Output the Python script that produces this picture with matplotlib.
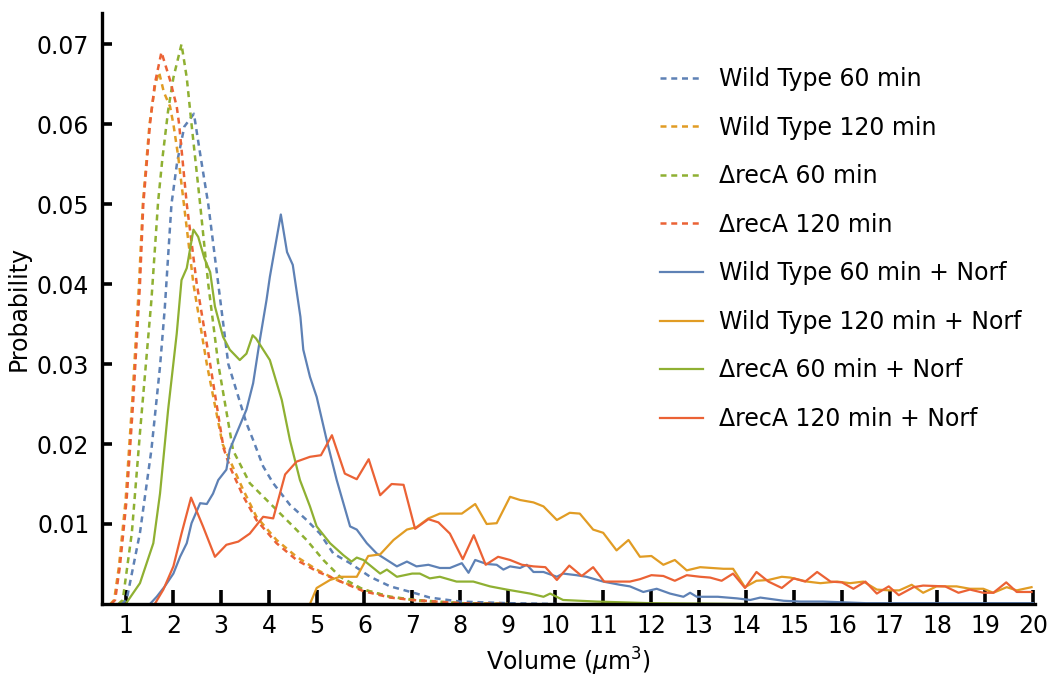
import numpy as np
import matplotlib
matplotlib.use("Agg")
import matplotlib.pyplot as plt

# ---------------------------------------------------------------------------
# Data
# ---------------------------------------------------------------------------
# untreated (dashed)
wt60_x = [0.90, 1.02, 1.30, 1.54, 1.72, 1.82, 1.96, 2.08, 2.23, 2.43, 2.56, 2.73, 2.94, 3.15,
          3.53, 3.67, 3.88, 4.09, 4.44, 4.79, 5.07, 5.35, 5.70, 6.12, 6.54, 7.09, 7.37, 8.0, 9.0, 10.0]
wt60_y = [0, 0.0005, 0.0089, 0.0193, 0.0297, 0.0370, 0.0500, 0.0553, 0.0597, 0.0613, 0.0563, 0.0500,
          0.0400, 0.0300, 0.0226, 0.0205, 0.0172, 0.0151, 0.0124, 0.0105, 0.0088, 0.0063, 0.0051,
          0.0034, 0.0022, 0.0013, 0.0008, 0.0003, 0.0001, 0]

wt120_x = [0.68, 0.76, 0.86, 1.00, 1.14, 1.28, 1.36, 1.50, 1.62, 1.70, 1.80, 1.93, 2.00, 2.10,
           2.22, 2.42, 2.70, 3.03, 3.18, 3.46, 3.74, 4.16, 4.58, 5.00, 5.42, 5.98, 6.54, 7.10, 8.0, 9.0]
wt120_y = [0, 0.0005, 0.0047, 0.0130, 0.0255, 0.0400, 0.0500, 0.0600, 0.0650, 0.0665, 0.0640, 0.0622,
           0.0600, 0.0560, 0.0500, 0.0400, 0.0300, 0.0200, 0.0180, 0.0143, 0.0109, 0.0080, 0.0059,
           0.0043, 0.0030, 0.0018, 0.0009, 0.0004, 0.0001, 0]

reca60_x = [0.85, 0.94, 1.13, 1.30, 1.54, 1.68, 1.77, 1.89, 2.00, 2.17, 2.28, 2.38, 2.56, 2.73,
            2.94, 3.25, 3.60, 4.02, 4.44, 4.79, 5.14, 5.49, 5.98, 6.54, 7.09, 8.0, 9.0]
reca60_y = [0, 0.0005, 0.0089, 0.0214, 0.0380, 0.0503, 0.0557, 0.0617, 0.0658, 0.0700, 0.0658,
            0.0600, 0.0500, 0.0400, 0.0300, 0.0192, 0.0151, 0.0126, 0.0101, 0.0080, 0.0055, 0.0034,
            0.0018, 0.0009, 0.0005, 0.0001, 0]

reca120_x = [0.70, 0.78, 0.88, 1.02, 1.16, 1.30, 1.37, 1.51, 1.61, 1.75, 1.93, 2.07, 2.12, 2.28,
             2.49, 2.77, 3.05, 3.18, 3.46, 3.74, 4.16, 4.58, 5.00, 5.42, 5.98, 6.54, 7.00, 8.0, 9.0]
reca120_y = [0, 0.0005, 0.0047, 0.0130, 0.0255, 0.0400, 0.0500, 0.0600, 0.0650, 0.0690, 0.0655,
             0.0622, 0.0600, 0.0500, 0.0400, 0.0300, 0.0195, 0.0172, 0.0135, 0.0105, 0.0076, 0.0055,
             0.0041, 0.0030, 0.0016, 0.0008, 0.0005, 0.0001, 0]

# norfloxacin treated (solid)
wt60n_x = [1.51, 1.65, 1.82, 2.00, 2.14, 2.28, 2.38, 2.56, 2.70, 2.83, 2.94, 3.11, 3.18, 3.32, 3.53,
           3.67, 3.81, 3.95, 4.02, 4.25, 4.38, 4.50, 4.66, 4.72, 4.86, 5.00, 5.21, 5.42, 5.70, 5.84,
           6.05, 6.26, 6.47, 6.68, 6.89, 7.09, 7.34, 7.58, 7.79, 8.04, 8.18, 8.32, 8.56, 8.77, 8.91,
           9.05, 9.26, 9.40, 9.54, 9.75, 10.03, 10.16, 10.44, 10.65, 11.00, 11.35, 11.56, 11.84,
           12.12, 12.40, 12.68, 12.82, 12.96, 13.40, 13.80, 14.08, 14.29, 14.78, 15.13, 15.60,
           16.5, 18.0, 20.0]
wt60n_y = [0, 0.0009, 0.0022, 0.0038, 0.0059, 0.0076, 0.0101, 0.0126, 0.0125, 0.0138, 0.0155,
           0.0168, 0.0193, 0.0213, 0.0243, 0.0276, 0.0330, 0.0380, 0.0409, 0.0487, 0.0440, 0.0424,
           0.0359, 0.0318, 0.0284, 0.0259, 0.0205, 0.0155, 0.0097, 0.0093, 0.0076, 0.0063, 0.0055,
           0.0047, 0.0053, 0.0047, 0.0049, 0.0045, 0.0045, 0.0051, 0.0039, 0.0055, 0.0050, 0.0049,
           0.0043, 0.0047, 0.0045, 0.0049, 0.0040, 0.0040, 0.0034, 0.0038, 0.0036, 0.0034, 0.0028,
           0.0024, 0.0022, 0.0015, 0.0019, 0.0013, 0.0009, 0.0014, 0.0009, 0.0009, 0.0007, 0.0005,
           0.0008, 0.0004, 0.0003, 0.0003, 0.0001, 0.0001, 0.0001]

wt120n_x = [4.86, 5.00, 5.28, 5.49, 5.84, 6.08, 6.33, 6.61, 6.89, 7.09, 7.34, 7.58, 8.04, 8.32,
            8.56, 8.77, 9.05, 9.26, 9.54, 9.75, 10.03, 10.30, 10.51, 10.79, 11.00, 11.28, 11.53,
            11.77, 12.01, 12.26, 12.50, 12.75, 13.03, 13.52, 13.72, 13.97, 14.21, 14.46, 14.74,
            14.92, 15.27, 15.55, 15.90, 16.17, 16.45, 16.73, 17.00, 17.20, 17.46, 17.70, 17.98,
            18.40, 18.68, 18.96, 19.17, 19.45, 19.66, 19.97]
wt120n_y = [0, 0.0020, 0.0030, 0.0034, 0.0034, 0.0060, 0.0062, 0.0080, 0.0093, 0.0096, 0.0107,
            0.0113, 0.0113, 0.0125, 0.0100, 0.0101, 0.0134, 0.0130, 0.0127, 0.0122, 0.0105, 0.0114,
            0.0113, 0.0093, 0.0089, 0.0067, 0.0080, 0.0059, 0.0060, 0.0049, 0.0055, 0.0042, 0.0046,
            0.0044, 0.0044, 0.0021, 0.0029, 0.0030, 0.0034, 0.0033, 0.0028, 0.0026, 0.0028, 0.0026,
            0.0028, 0.0018, 0.0017, 0.0017, 0.0024, 0.0014, 0.0022, 0.0022, 0.0019, 0.0019, 0.0014,
            0.0021, 0.0017, 0.0021]

reca60n_x = [1.00, 1.30, 1.58, 1.72, 1.89, 2.07, 2.17, 2.28, 2.42, 2.52, 2.65, 2.77, 2.87, 3.04,
             3.18, 3.39, 3.53, 3.66, 3.73, 4.02, 4.27, 4.44, 4.65, 4.86, 5.00, 5.28, 5.56, 5.73,
             5.84, 5.98, 6.33, 6.47, 6.68, 7.00, 7.16, 7.37, 7.58, 7.93, 8.28, 8.63, 8.98, 9.47,
             9.75, 9.89, 10.16, 10.86, 12.0, 14.0]
reca60n_y = [0, 0.0026, 0.0076, 0.0138, 0.0243, 0.0338, 0.0405, 0.0420, 0.0468, 0.0459, 0.0432,
             0.0415, 0.0372, 0.0334, 0.0318, 0.0305, 0.0313, 0.0336, 0.0332, 0.0305, 0.0255, 0.0205,
             0.0155, 0.0122, 0.0097, 0.0076, 0.0061, 0.0053, 0.0058, 0.0055, 0.0038, 0.0043, 0.0034,
             0.0038, 0.0038, 0.0032, 0.0034, 0.0028, 0.0028, 0.0022, 0.0018, 0.0013, 0.0009, 0.0013,
             0.0005, 0.0003, 0.0001, 0]

reca120n_x = [1.61, 1.79, 2.00, 2.17, 2.37, 2.62, 2.87, 3.11, 3.36, 3.60, 3.88, 4.09, 4.34, 4.58,
              4.86, 5.09, 5.32, 5.59, 5.84, 6.09, 6.33, 6.57, 6.82, 7.06, 7.34, 7.55, 7.79, 8.06,
              8.29, 8.54, 8.80, 9.05, 9.30, 9.54, 9.79, 10.03, 10.29, 10.55, 10.79, 11.02, 11.28,
              11.56, 11.77, 12.01, 12.26, 12.50, 12.75, 13.03, 13.24, 13.48, 13.72, 13.97, 14.21,
              14.46, 14.74, 14.99, 15.23, 15.48, 15.76, 16.00, 16.24, 16.49, 16.73, 16.98, 17.19,
              17.50, 17.70, 18.16, 18.44, 18.68, 18.96, 19.17, 19.44, 19.66, 19.97]
reca120n_y = [0, 0.0018, 0.0047, 0.0088, 0.0133, 0.0097, 0.0059, 0.0074, 0.0078, 0.0088, 0.0109,
              0.0107, 0.0162, 0.0178, 0.0184, 0.0186, 0.0211, 0.0163, 0.0156, 0.0181, 0.0136,
              0.0150, 0.0149, 0.0094, 0.0106, 0.0102, 0.0088, 0.0056, 0.0086, 0.0049, 0.0059,
              0.0055, 0.0049, 0.0047, 0.0046, 0.0030, 0.0048, 0.0035, 0.0046, 0.0028, 0.0028,
              0.0028, 0.0031, 0.0036, 0.0035, 0.0029, 0.0036, 0.0034, 0.0033, 0.0029, 0.0038,
              0.0020, 0.0040, 0.0028, 0.0020, 0.0032, 0.0028, 0.0040, 0.0028, 0.0027, 0.0019,
              0.0028, 0.0013, 0.0022, 0.0011, 0.0021, 0.0023, 0.0022, 0.0014, 0.0018, 0.0014,
              0.0014, 0.0027, 0.0015, 0.0015]

labels = ["Wild Type 60 min", "Wild Type 120 min", "\u0394recA 60 min", "\u0394recA 120 min",
          "Wild Type 60 min + Norf", "Wild Type 120 min + Norf",
          "\u0394recA 60 min + Norf", "\u0394recA 120 min + Norf"]

xticks = list(range(1, 21))
yticks = [0.01, 0.02, 0.03, 0.04, 0.05, 0.06, 0.07]

# ---------------------------------------------------------------------------
# Style
# ---------------------------------------------------------------------------
COLORS = ["#5E81B5", "#E19C24", "#8FB032", "#EB6235"]
DASH = (0, (2.4, 1.9))
FS = 17

plt.rcParams["font.family"] = ["DejaVu Sans"]
plt.rcParams["mathtext.fontset"] = "dejavusans"

fig = plt.figure(figsize=(10.49, 6.79), dpi=100)
ax = fig.add_axes([0.097, 0.1105, 0.890, 0.8704])

dashed = [(wt60_x, wt60_y), (wt120_x, wt120_y), (reca60_x, reca60_y), (reca120_x, reca120_y)]
solid = [(wt60n_x, wt60n_y), (wt120n_x, wt120n_y), (reca60n_x, reca60n_y), (reca120n_x, reca120n_y)]

for i, (xs, ys) in enumerate(dashed):
    ax.plot(xs, ys, color=COLORS[i], lw=1.8, ls=DASH, label=labels[i])
for i, (xs, ys) in enumerate(solid):
    ax.plot(xs, ys, color=COLORS[i], lw=1.6, ls="-", label=labels[4 + i])

ax.set_xlim(0.5, 20.05)
ax.set_ylim(0, 0.0739)
ax.set_xticks(xticks)
ax.set_xticklabels([str(t) for t in xticks])
ax.set_yticks(yticks)
ax.set_yticklabels([f"{t:.2f}" for t in yticks])

for side in ["top", "right"]:
    ax.spines[side].set_visible(False)
for side in ["left", "bottom"]:
    ax.spines[side].set_linewidth(2.4)
ax.tick_params(axis="x", direction="in", length=10, width=2.6, pad=7, labelsize=FS)
ax.tick_params(axis="y", direction="in", length=7.5, width=2.6, pad=9, labelsize=FS)

ax.set_xlabel(r"Volume ($\mu$m$^3$)", fontsize=FS, labelpad=6)
ax.set_ylabel("Probability", fontsize=FS, labelpad=4)

ax.legend(loc="upper left", bbox_to_anchor=(660 / 1049, 1 - 67 / 679),
          bbox_transform=fig.transFigure, frameon=False, fontsize=FS,
          handlelength=1.8, handletextpad=0.7, labelspacing=1.04,
          borderpad=0, borderaxespad=0)

fig.savefig("out.png", dpi=100)
